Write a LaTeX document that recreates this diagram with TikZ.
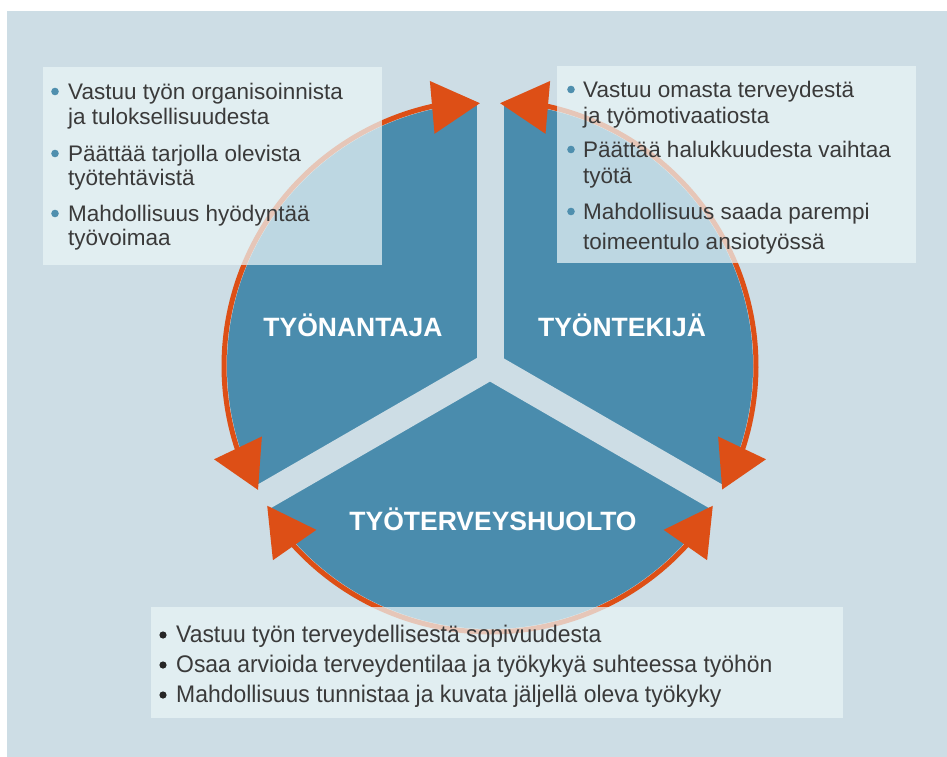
\documentclass[tikz,border=0pt]{standalone}
\usepackage{fontspec}
\setmainfont{Liberation Sans}
\newfontfamily\condfont{Liberation Sans}[FakeStretch=0.955]
\usetikzlibrary{calc}
\definecolor{bgc}{HTML}{CDDDE5}
\definecolor{bluec}{HTML}{4A8CAD}
\definecolor{orc}{HTML}{DD4F16}
\definecolor{txtc}{HTML}{3A3A3A}
\definecolor{boxc}{HTML}{EAF5F7}
\definecolor{dotc}{HTML}{4F8FAE}
\newcommand\arrowhd[3]{% name, tip angle, base angle
  \path (C) ++(#3:265) coordinate (#1b) (C) ++(#2:263) coordinate (#1t);
  \fill[orc] (#1t) -- ($(#1b)!26.5pt!90:(#1t)$) -- ($(#1b)!26.5pt!-90:(#1t)$) -- cycle;}
\begin{document}
\begin{tikzpicture}[x=1pt,y=1pt,
  infobox/.style={fill=boxc, fill opacity=0.72, draw=none},
  lbl/.style={anchor=base, text=white, font=\fontsize{26.5}{30}\selectfont\bfseries, inner sep=0},
  itemtxt/.style={anchor=base west, text=txtc, font=\fontsize{22.5}{25}\selectfont, inner sep=0},
  itemcond/.style={anchor=base west, text=txtc, font=\condfont\fontsize{24}{28}\selectfont, inner sep=0},
  gapline/.style={draw=bgc, line width=27pt},
  ringarc/.style={draw=orc, line width=5pt},
]
\useasboundingbox (0,0) rectangle (947,756);
\fill[white] (0,0) rectangle (947,756);
\fill[bgc] (7,-10) rectangle (957,745);
\coordinate (C) at (490,390);
% disk
\fill[bluec] (C) circle[radius=263];
% gaps
\draw[gapline] (C) -- ++(90:285);
\draw[gapline] (C) -- ++(210:285);
\draw[gapline] (C) -- ++(330:285);
\fill[bgc] (C) circle[radius=13.5];
% arcs
\draw[ringarc] (C) ++(101:266) arc[start angle=101, end angle=199.5, radius=266];
\draw[ringarc] (C) ++(79:266) arc[start angle=79, end angle=-19.5, radius=266];
\draw[ringarc] (C) ++(221:266) arc[start angle=221, end angle=319, radius=266];
% arrowheads
\arrowhd{a1}{92.2}{102.6}
\arrowhd{a2}{87.8}{77.4}
\arrowhd{a3}{208.1}{198}
\arrowhd{a4}{212.1}{222.5}
\arrowhd{a5}{-28}{-18}
\arrowhd{a6}{-32.1}{-42.5}
% labels
\node[lbl] (l1) at (353,420) {TYÖNANTAJA};
\node[lbl] (l2) at (622,420) {TYÖNTEKIJÄ};
\node[lbl] (l3) at (493,226) {TYÖTERVEYSHUOLTO};
% boxes
\fill[infobox] (43,491) rectangle (382,689);
\fill[infobox] (557,493) rectangle (916,690);
\fill[infobox] (151,38) rectangle (843,149);
% box 1
\fill[dotc] (55,664.5) circle[radius=3.8];
\fill[dotc] (55,602.5) circle[radius=3.8];
\fill[dotc] (55,542.5) circle[radius=3.8];
\node[itemtxt] (t11) at (68,656) {Vastuu työn organisoinnista};
\node[itemtxt] (t12) at (68,631) {ja tuloksellisuudesta};
\node[itemtxt] (t13) at (68,594) {Päättää tarjolla olevista};
\node[itemtxt] (t14) at (68,570) {työtehtävistä};
\node[itemtxt] (t15) at (68,534) {Mahdollisuus hyödyntää};
\node[itemtxt] (t16) at (68,510) {työvoimaa};
% box 2
\fill[dotc] (571,666.5) circle[radius=3.8];
\fill[dotc] (571,606.5) circle[radius=3.8];
\fill[dotc] (571,544.5) circle[radius=3.8];
\node[itemtxt] (t21) at (583,658) {Vastuu omasta terveydestä};
\node[itemtxt] (t22) at (583,632) {ja työmotivaatiosta};
\node[itemtxt] (t23) at (583,598) {Päättää halukkuudesta vaihtaa};
\node[itemtxt] (t24) at (583,572) {työtä};
\node[itemtxt] (t25) at (583,536) {Mahdollisuus saada parempi};
\node[itemtxt] (t26) at (583,506) {toimeentulo ansiotyössä};
% box 3
\fill[black!85] (163,121) circle[radius=3.6];
\fill[black!85] (163,91) circle[radius=3.6];
\fill[black!85] (163,61) circle[radius=3.6];
\node[itemcond] (t31) at (176,114) {Vastuu työn terveydellisestä sopivuudesta};
\node[itemcond] (t32) at (176,84) {Osaa arvioida terveydentilaa ja työkykyä suhteessa työhön};
\node[itemcond] (t33) at (176,54) {Mahdollisuus tunnistaa ja kuvata jäljellä oleva työkyky};
\end{tikzpicture}
\end{document}
